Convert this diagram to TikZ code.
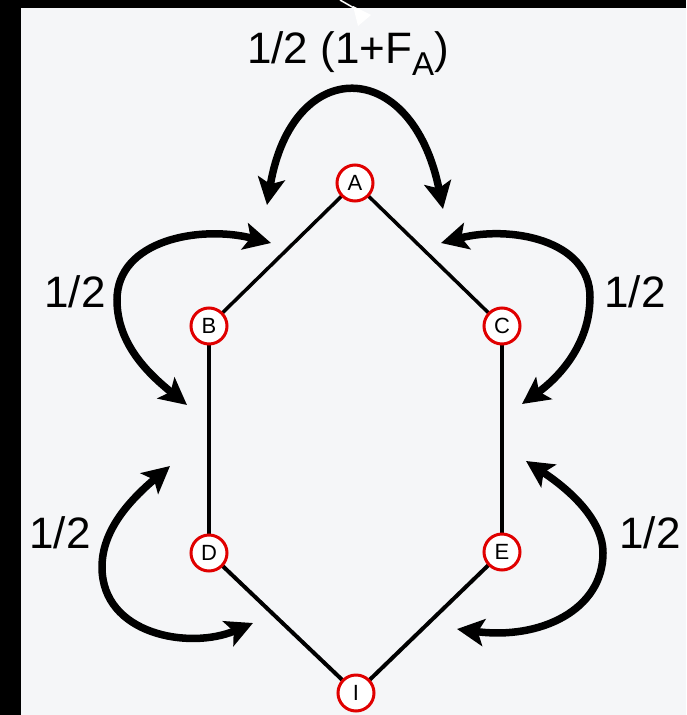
\documentclass[tikz,border=0pt]{standalone}
\usepackage{fontspec}
\setmainfont{Liberation Sans}
\usetikzlibrary{arrows.meta}
\definecolor{bgc}{HTML}{F5F6F8}
\definecolor{ringred}{HTML}{E00000}
\begin{document}
\begin{tikzpicture}[x=1pt,y=-1pt,
  vtx/.style={circle,draw=ringred,line width=3pt,fill=white,minimum size=36pt,inner sep=0pt,
    font=\fontsize{22}{22}\selectfont},
  edge/.style={line width=3.5pt,black},
  lbl/.style={anchor=base,font=\fontsize{44}{44}\selectfont,inner sep=0pt},
  arr/.style={line width=7.5pt,black,
    {Stealth[length=27pt,width=27pt,inset=6pt]}-{Stealth[length=27pt,width=27pt,inset=6pt]}}]
\useasboundingbox (0,0) rectangle (686,715);
\fill[black] (0,0) rectangle (686,715);
\fill[bgc] (21,8) rectangle (686,715);
\fill[white] (353,6) -- (371,15) -- (358,26) -- cycle;
\draw[white,line width=1.5pt] (340,0) -- (354,8);
% edges first, nodes on top
\coordinate (pA) at (355,183);
\coordinate (pB) at (209,326);
\coordinate (pC) at (502,326);
\coordinate (pD) at (209,553);
\coordinate (pE) at (502,552);
\coordinate (pI) at (356,693);
\draw[edge] (pA) -- (pB);
\draw[edge] (pA) -- (pC);
\draw[edge] (pB) -- (pD);
\draw[edge] (pC) -- (pE);
\draw[edge,line width=4pt] (pD) -- (pI);
\draw[edge,line width=4pt] (pE) -- (pI);
\node[vtx] (A) at (pA) {A};
\node[vtx] (B) at (pB) {B};
\node[vtx] (C) at (pC) {C};
\node[vtx] (D) at (pD) {D};
\node[vtx] (E) at (pE) {E};
\node[vtx] (I) at (pI) {I};
% arrow end points
\coordinate (t1) at (267,205);
\coordinate (t2) at (443,209);
\coordinate (b1) at (271,243);
\coordinate (b2) at (187,405);
\coordinate (c1) at (441,243);
\coordinate (c2) at (522,404);
\coordinate (d1) at (170,466);
\coordinate (d2) at (253,623);
\coordinate (e1) at (526,461);
\coordinate (e2) at (457,629);
\draw[arr] (t1) .. controls (292,55) and (412,55) .. (t2);
\draw[arr] (b1) .. controls (200,225) and (117,240) .. (117,300) .. controls (117,345) and (150,375) .. (b2);
\draw[arr] (c1) .. controls (510,225) and (590,240) .. (590,297) .. controls (590,345) and (558,378) .. (c2);
\draw[arr] (d1) .. controls (130,500) and (102,530) .. (102,567) .. controls (102,635) and (190,650) .. (d2);
\draw[arr] (e1) .. controls (570,490) and (603,520) .. (603,553) .. controls (603,610) and (540,640) .. (e2);
% labels
\node[lbl] (top) at (348,63) {1/2 (1+F{\fontsize{33}{33}\selectfont\raisebox{-12pt}{A}})};
\node[lbl] (lb) at (75,307) {1/2};
\node[lbl] (lc) at (635,307) {1/2};
\node[lbl] (ld) at (60,548) {1/2};
\node[lbl] (le) at (650,548) {1/2};
\end{tikzpicture}
\end{document}
